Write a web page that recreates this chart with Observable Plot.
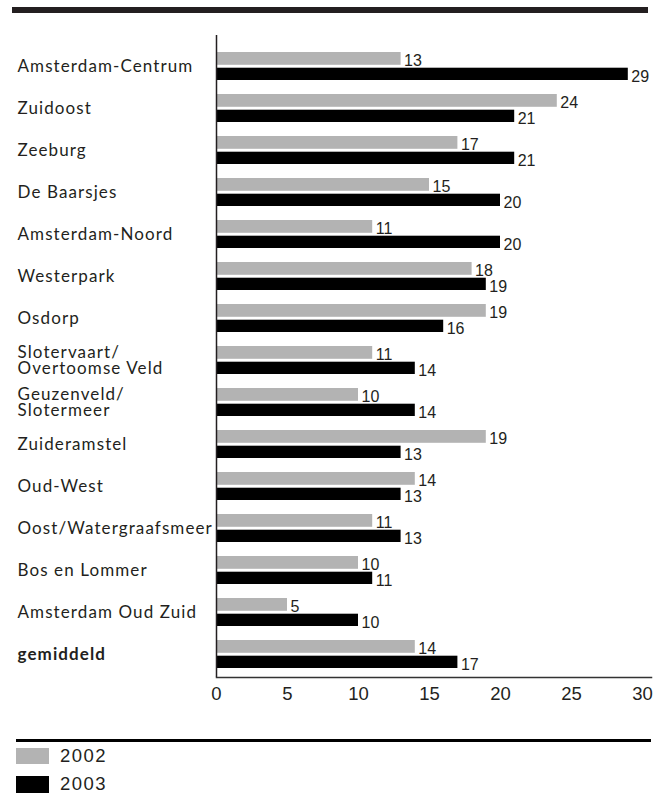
<!DOCTYPE html>
<html>
<head>
<meta charset="utf-8">
<script src="https://cdn.jsdelivr.net/npm/d3@7"></script>
<script src="https://cdn.jsdelivr.net/npm/@observablehq/plot@0.6"></script>
<style>
  body { margin: 0; background: #fff; width: 659px; height: 796px; overflow: hidden; }
  #topbar { margin: 7px 0 0 12px; width: 636px; height: 6px; background: #231f20; }
  #chart svg { display: block; }
  g[font-family="Lato"] { letter-spacing: 1.1px; }
  #legend { font-family: "Liberation Sans", Arial, sans-serif; color: #231f20; }
  #legend .line { margin: 27px 0 0 16px; width: 635px; height: 3px; background: #000; }
  #legend .row { display: flex; align-items: center; height: 28.3px; margin-left: 16px; font-size: 18.5px; letter-spacing: 1.5px; }
  #legend .sw { width: 33px; height: 16.6px; margin-right: 11px; }
</style>
</head>
<body>
<div id="topbar"></div>
<div id="chart"></div>
<div id="legend"></div>
<script>
const categories = [
  "Amsterdam-Centrum", "Zuidoost", "Zeeburg", "De Baarsjes", "Amsterdam-Noord",
  "Westerpark", "Osdorp", "Slotervaart/\nOvertoomse Veld", "Geuzenveld/\nSlotermeer",
  "Zuideramstel", "Oud-West", "Oost/Watergraafsmeer", "Bos en Lommer",
  "Amsterdam Oud Zuid", "gemiddeld"
];
const values2002 = [13, 24, 17, 15, 11, 18, 19, 11, 10, 19, 14, 11, 10, 5, 14];
const values2003 = [29, 21, 21, 20, 20, 19, 16, 14, 14, 13, 13, 13, 11, 10, 17];
const xTicks = [0, 5, 10, 15, 20, 25, 30];
const years = ["2002", "2003"];
const colors = ["#b3b3b3", "#000000"];
const boldCategory = "gemiddeld";

const d2002 = categories.map((c, i) => ({cat: c, v: values2002[i]}));
const d2003 = categories.map((c, i) => ({cat: c, v: values2003[i]}));

const textColor = "#231f20";

const plot = Plot.plot({
  width: 659,
  height: 699,
  marginTop: 22,
  marginBottom: 35,
  marginLeft: 216,
  marginRight: 8,
  style: {fontFamily: "Liberation Sans, Arial, sans-serif", color: textColor, background: "#fff"},
  x: {domain: [0, 30], range: [216, 642], ticks: xTicks, tickSize: 0, tickPadding: 9, label: null},
  y: {domain: categories, range: [37, 658], paddingInner: 0.326, paddingOuter: 0, axis: null},
  marks: [
    Plot.barX(d2002, {x: "v", y: "cat", fill: colors[0], insetBottom: 15.2}),
    Plot.barX(d2003, {x: "v", y: "cat", fill: colors[1], insetTop: 15.7}),
    Plot.text(d2002, {x: "v", y: "cat", text: d => String(d.v), textAnchor: "start", lineAnchor: "bottom", dx: 3, dy: -1, fontSize: 16, fill: textColor}),
    Plot.text(d2003, {x: "v", y: "cat", text: d => String(d.v), textAnchor: "start", lineAnchor: "bottom", dx: 3, dy: 15, fontSize: 16, fill: textColor}),
    Plot.text(categories.filter(c => c !== boldCategory), {y: d => d, text: d => d, frameAnchor: "left", textAnchor: "start", dx: -199, fontSize: 17, lineHeight: 0.96, fontFamily: "Lato", fill: textColor}),
    Plot.text(categories.filter(c => c === boldCategory), {y: d => d, text: d => d, frameAnchor: "left", textAnchor: "start", dx: -199, fontSize: 17, fontWeight: "bold", fontFamily: "Lato", fill: textColor}),
    Plot.ruleX([0], {stroke: textColor, strokeWidth: 1.5}),
    Plot.frame({anchor: "bottom", stroke: "#333", strokeWidth: 1.5}),
    Plot.axisX({ticks: xTicks, tickSize: 0, tickPadding: 9, fontSize: 18.5, fill: textColor, label: null})
  ]
});
document.getElementById("chart").appendChild(plot);

const legend = document.getElementById("legend");
const line = document.createElement("div");
line.className = "line";
legend.appendChild(line);
years.forEach((y, i) => {
  const row = document.createElement("div");
  row.className = "row";
  const sw = document.createElement("div");
  sw.className = "sw";
  sw.style.background = colors[i];
  const t = document.createElement("span");
  t.textContent = y;
  row.appendChild(sw);
  row.appendChild(t);
  legend.appendChild(row);
});
</script>
</body>
</html>
